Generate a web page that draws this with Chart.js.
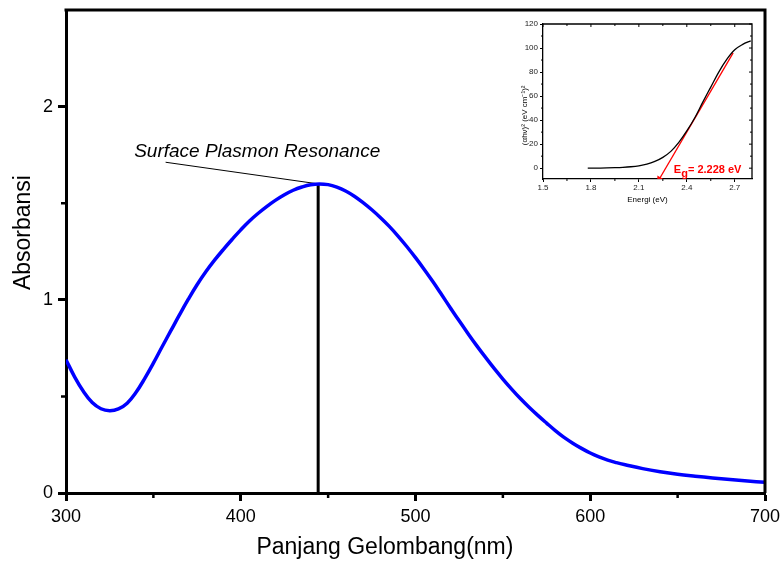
<!DOCTYPE html>
<html><head><meta charset="utf-8">
<script src="https://cdn.jsdelivr.net/npm/chart.js@4.4.0/dist/chart.umd.min.js"></script>
<style>
html,body{margin:0;padding:0;background:#fff;}
#wrap{position:relative;width:784px;height:565px;overflow:hidden;}
#main{position:absolute;left:0;top:0;}
#inset{position:absolute;left:500px;top:12px;}
</style></head><body>
<div id="wrap">
<canvas id="main" width="784" height="565"></canvas>
<canvas id="inset" width="265" height="200"></canvas>
</div>
<script>
// ---------- main spectrum data ----------
const wavelength = [300,305,310,315,320,325,330,335,340,345,350,355,360,365,370,375,380,385,390,395,400,405,410,415,420,425,430,435,440,445,450,455,460,465,470,475,480,485,490,495,500,505,510,515,520,525,530,535,540,545,550,555,560,565,570,575,580,585,590,595,600,605,610,615,620,630,640,650,660,670,680,690,700];
const absorbance = [0.69,0.60,0.525,0.468,0.436,0.426,0.435,0.465,0.52,0.592,0.672,0.757,0.84,0.923,1.003,1.078,1.145,1.205,1.26,1.312,1.362,1.408,1.448,1.484,1.516,1.544,1.567,1.584,1.596,1.60,1.596,1.583,1.563,1.536,1.503,1.466,1.425,1.38,1.33,1.276,1.218,1.157,1.093,1.026,0.958,0.891,0.826,0.763,0.703,0.645,0.59,0.538,0.489,0.444,0.402,0.362,0.323,0.288,0.258,0.231,0.207,0.187,0.170,0.157,0.146,0.126,0.11,0.097,0.087,0.078,0.07,0.062,0.055];
const xTickValues = [300,400,500,600,700];
const xMinorTicks = [350,450,550,650];
const yTickValues = [0,1,2];
const yMinorTicks = [0.5,1.5];
const peakWavelength = 444.3;
const peakAbsorbance = 1.60;
const leaderStart = [357,1.712];
const annotationText = 'Surface Plasmon Resonance';
const annotationAt = [339,1.767];
const xTitle = 'Panjang Gelombang(nm)';
const xTitleAt = 482.5;
const yTitle = 'Absorbansi';
const yTitleAt = 1.348;

// ---------- inset Tauc plot data ----------
const energy = [1.78,1.85,1.9,1.95,2.0,2.05,2.1,2.15,2.2,2.25,2.3,2.35,2.4,2.45,2.5,2.55,2.6,2.65,2.7,2.75,2.8];
const taucValue = [0,0.1,0.2,0.4,0.7,1.2,2.0,3.3,5.6,9.0,14,21.5,31,42,55,67.5,80,90.5,98.5,103,106];
const fitX = [2.228,2.69];
const fitY = [-9,96];
const insetXTicks = [1.5,1.8,2.1,2.4,2.7];
const insetXMinor = [1.65,1.95,2.25,2.55];
const insetYTicks = [0,20,40,60,80,100,120];
const insetYMinor = [10,30,50,70,90,110];
const insetXTitle = 'Energi (eV)';
const insetYTitle = '(\u03B1h\u03BD)\u00B2 (eV cm\u207B\u00B9)\u00B2';
const insetYTitleAt = 44;
const bandGapParts = ['E','g','= 2.228 eV'];
const bandGapAt = [2.319,-3.9];

const FONT = '"Liberation Sans", Arial, Helvetica, sans-serif';

const mainFrame = {
  id:'mainFrame',
  afterDraw(chart){
    const {ctx, chartArea:a, scales:{x,y}} = chart;
    ctx.save();
    ctx.strokeStyle='#000';
    ctx.lineWidth=3;
    ctx.beginPath();
    ctx.moveTo(a.left-1.5,a.top); ctx.lineTo(a.right,a.top); ctx.lineTo(a.right,a.bottom);
    ctx.stroke();
    ctx.lineWidth=2.5;
    ctx.beginPath();
    xMinorTicks.forEach(v=>{const p=x.getPixelForValue(v); ctx.moveTo(p,a.bottom); ctx.lineTo(p,a.bottom+5);});
    yMinorTicks.forEach(v=>{const p=y.getPixelForValue(v); ctx.moveTo(a.left,p); ctx.lineTo(a.left-5,p);});
    ctx.stroke();
    ctx.fillStyle='#000';
    ctx.font='italic 19px '+FONT;
    ctx.textBaseline='middle';
    ctx.textAlign='left';
    ctx.fillText(annotationText, x.getPixelForValue(annotationAt[0]), y.getPixelForValue(annotationAt[1]));
    // axis titles
    ctx.font='23px '+FONT;
    ctx.textAlign='center';
    ctx.fillText(xTitle, x.getPixelForValue(xTitleAt), a.bottom+55);
    ctx.translate(24, y.getPixelForValue(yTitleAt));
    ctx.rotate(-Math.PI/2);
    ctx.fillText(yTitle, 0, 0);
    ctx.restore();
  }
};

new Chart(document.getElementById('main'), {
  type:'line',
  data:{
    datasets:[
      {data:wavelength.map((w,i)=>({x:w,y:absorbance[i]})), borderColor:'#0000ff', borderWidth:3.5, pointRadius:0, tension:0.4, fill:false},
      {data:[{x:peakWavelength,y:0},{x:peakWavelength,y:peakAbsorbance}], borderColor:'#000', borderWidth:3, pointRadius:0},
      {data:[{x:leaderStart[0],y:leaderStart[1]},{x:peakWavelength,y:peakAbsorbance}], borderColor:'#000', borderWidth:1, pointRadius:0}
    ]
  },
  options:{
    responsive:false, animation:false, devicePixelRatio:1,
    layout:{padding:{left:0,right:19,top:10,bottom:0}},
    plugins:{legend:{display:false}, tooltip:{enabled:false}},
    scales:{
      x:{type:'linear', min:300, max:700,
        afterFit(s){s.height=72; s.paddingLeft=0; s.paddingRight=0;},
        afterBuildTicks(s){s.ticks=xTickValues.map(v=>({value:v}));},
        ticks:{color:'#000', font:{size:18,family:FONT}, padding:5, maxRotation:0},
        grid:{drawOnChartArea:false, drawTicks:true, tickLength:8, tickWidth:3, tickColor:'#000'},
        border:{display:true, width:3, color:'#000'},
        title:{display:false}
      },
      y:{type:'linear', min:0, max:2.5,
        afterFit(s){s.width=66; s.paddingTop=0; s.paddingBottom=0;},
        afterBuildTicks(s){s.ticks=yTickValues.map(v=>({value:v}));},
        ticks:{color:'#000', font:{size:18,family:FONT}, padding:5},
        grid:{drawOnChartArea:false, drawTicks:true, tickLength:8, tickWidth:3, tickColor:'#000'},
        border:{display:true, width:3, color:'#000'},
        title:{display:false}
      }
    }
  },
  plugins:[mainFrame]
});

const insetFrame = {
  id:'insetFrame',
  afterDraw(chart){
    const {ctx, chartArea:a, scales:{x,y}} = chart;
    ctx.save();
    ctx.strokeStyle='#000';
    ctx.lineWidth=1.3;
    ctx.beginPath();
    ctx.moveTo(a.left,a.top); ctx.lineTo(a.right,a.top); ctx.lineTo(a.right,a.bottom);
    ctx.stroke();
    ctx.lineWidth=1;
    ctx.beginPath();
    insetXTicks.forEach(v=>{const p=x.getPixelForValue(v); ctx.moveTo(p,a.top); ctx.lineTo(p,a.top+3);});
    insetXMinor.forEach(v=>{const p=x.getPixelForValue(v); ctx.moveTo(p,a.top); ctx.lineTo(p,a.top+2); ctx.moveTo(p,a.bottom); ctx.lineTo(p,a.bottom+2);});
    insetYTicks.forEach(v=>{const p=y.getPixelForValue(v); ctx.moveTo(a.right,p); ctx.lineTo(a.right-3,p);});
    insetYMinor.forEach(v=>{const p=y.getPixelForValue(v); ctx.moveTo(a.right,p); ctx.lineTo(a.right-2,p); ctx.moveTo(a.left,p); ctx.lineTo(a.left-2,p);});
    ctx.stroke();
    // band gap label
    ctx.fillStyle='#ff0000';
    ctx.textBaseline='alphabetic';
    ctx.textAlign='left';
    ctx.font='bold 11px '+FONT;
    let px=x.getPixelForValue(bandGapAt[0]), py=y.getPixelForValue(bandGapAt[1]);
    ctx.fillText(bandGapParts[0],px,py); px+=ctx.measureText(bandGapParts[0]).width;
    ctx.fillText(bandGapParts[1],px,py+4); px+=ctx.measureText(bandGapParts[1]).width;
    ctx.fillText(bandGapParts[2],px,py);
    // y title
    ctx.fillStyle='#000';
    ctx.font='8px '+FONT;
    ctx.textAlign='center';
    ctx.textBaseline='middle';
    ctx.translate(25, y.getPixelForValue(insetYTitleAt));
    ctx.rotate(-Math.PI/2);
    ctx.fillText(insetYTitle,0,0);
    ctx.restore();
  }
};

new Chart(document.getElementById('inset'), {
  type:'line',
  data:{
    datasets:[
      {data:energy.map((e,i)=>({x:e,y:taucValue[i]})), borderColor:'#000', borderWidth:1.3, pointRadius:0, cubicInterpolationMode:'monotone'},
      {data:[{x:fitX[0],y:fitY[0]},{x:fitX[1],y:fitY[1]}], borderColor:'#ff0000', borderWidth:1.3,
       pointRadius:[4,0], pointStyle:'triangle', rotation:211, pointBackgroundColor:'#ff0000', pointBorderColor:'#ff0000', pointBorderWidth:0}
    ]
  },
  options:{
    responsive:false, animation:false, devicePixelRatio:1,
    layout:{padding:{left:0,right:13,top:12,bottom:0}},
    plugins:{legend:{display:false}, tooltip:{enabled:false}},
    scales:{
      x:{type:'linear', min:1.5, max:2.808,
        afterFit(s){s.height=33; s.paddingLeft=0; s.paddingRight=0;},
        afterBuildTicks(s){s.ticks=insetXTicks.map(v=>({value:v}));},
        ticks:{color:'#222', font:{size:8,family:FONT}, padding:1, maxRotation:0, callback:v=>v.toFixed(1)},
        grid:{drawOnChartArea:false, drawTicks:true, tickLength:3, tickWidth:1, tickColor:'#000'},
        border:{display:true, width:1.3, color:'#000'},
        title:{display:true, text:insetXTitle, color:'#000', font:{size:8,family:FONT}, padding:{top:0,bottom:7}}
      },
      y:{type:'linear', min:-9, max:120,
        afterFit(s){s.width=43; s.paddingTop=0; s.paddingBottom=0;},
        afterBuildTicks(s){s.ticks=insetYTicks.map(v=>({value:v}));},
        ticks:{color:'#222', font:{size:8,family:FONT}, padding:2},
        grid:{drawOnChartArea:false, drawTicks:true, tickLength:3, tickWidth:1, tickColor:'#000'},
        border:{display:true, width:1.3, color:'#000'},
        title:{display:false}
      }
    }
  },
  plugins:[insetFrame]
});
</script>
</body></html>
